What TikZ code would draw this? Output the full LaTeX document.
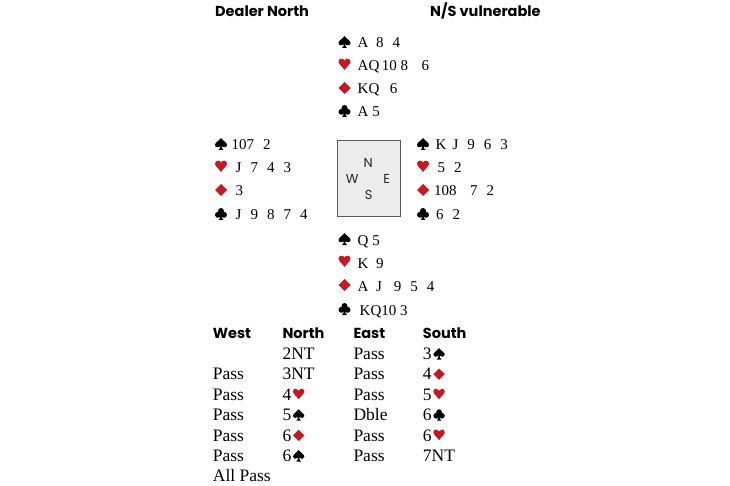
\documentclass[tikz,border=0pt]{standalone}
\usepackage{fontspec}
\setmainfont{Liberation Serif}
\newfontfamily\headfont{Poppins}
\usepackage{xcolor}
\definecolor{suitred}{RGB}{200,23,30}
\definecolor{boxgray}{RGB}{236,236,236}
\newcommand{\cg}{\hspace{0.6em}}
\tikzset{
  hand/.style={anchor=base west, inner sep=0pt, font=\fontsize{15}{17}\selectfont},
  bid/.style={anchor=base west, inner sep=0pt, font=\fontsize{17.5}{20}\selectfont},
  head/.style={anchor=base west, inner sep=0pt, font=\headfont\bfseries\fontsize{14.5}{16}\selectfont},
  compass/.style={inner sep=0pt, text=black!85, font=\headfont\fontsize{13}{15}\selectfont},
  % suit symbols, origin at bottom left, 12 wide
  spadesym/.pic={
    \fill (6,-12) .. controls (4,-9) and (0,-7.5) .. (0,-5)
      .. controls (0,-2.5) and (3.5,-2) .. (5.5,-4)
      .. controls (5.3,-2) and (4.5,-0.8) .. (3.5,0) -- (8.5,0)
      .. controls (7.5,-0.8) and (6.7,-2) .. (6.5,-4)
      .. controls (8.5,-2) and (12,-2.5) .. (12,-5)
      .. controls (12,-7.5) and (8,-9) .. (6,-12) -- cycle;
  },
  heartsym/.pic={
    \fill[suitred] (6,-1) .. controls (4,-4) and (0,-7) .. (0,-9.3)
      .. controls (0,-11.3) and (1.5,-12.3) .. (3,-12.3)
      .. controls (4.5,-12.3) and (5.5,-11.5) .. (6,-10.2)
      .. controls (6.5,-11.5) and (7.5,-12.3) .. (9,-12.3)
      .. controls (10.5,-12.3) and (12,-11.3) .. (12,-9.3)
      .. controls (12,-7) and (8,-4) .. (6,-1) -- cycle;
  },
  diamondsym/.pic={
    \fill[suitred] (6,0) -- (0,-6) -- (6,-12) -- (12,-6) -- cycle;
  },
  clubsym/.pic={
    \fill (6,-9) circle (3) (3,-5.2) circle (3) (9,-5.2) circle (3) (6,-6) circle (1.8);
    \fill (5.5,-5) .. controls (5.3,-2) and (4.5,-0.8) .. (3.5,0) -- (8.5,0)
      .. controls (7.5,-0.8) and (6.7,-2) .. (6.5,-5) -- cycle;
  }
}
\begin{document}
\begin{tikzpicture}[x=1pt,y=-1pt]
            \useasboundingbox (0,0) rectangle (730,486);
            % headings
            \node[head] (dealer) at (215,16.7) {Dealer North};
            \node[head] (vul) at (430,16.7) {N/S vulnerable};

            % North
            \pic at (338.5,48) {spadesym};
            \pic at (338.5,71) {heartsym};
            \pic at (338.5,94) {diamondsym};
            \pic at (338.5,117) {clubsym};
            \node[hand] (nS) at (357.5,48) {A\hspace{0.5em}8\cg 4};
            \node[hand] (nH) at (357.5,71) {AQ\,10 8\hspace{0.9em}6};
            \node[hand] (nD) at (357.5,94) {KQ\hspace{0.7em}6};
            \node[hand] (nC) at (357.5,117) {A 5};

            % West
            \pic at (215,150) {spadesym};
            \pic at (215,173) {heartsym};
            \pic at (215,196) {diamondsym};
            \pic at (215,220) {clubsym};
            \node[hand] (wS) at (231.5,150) {107\cg 2};
            \node[hand] (wH) at (235.5,173) {J\cg 7\cg 4\cg 3};
            \node[hand] (wD) at (235.5,196) {3};
            \node[hand] (wC) at (235.5,220) {J\cg 9\cg 8\cg 7\cg 4};

            % compass box
            \draw[draw=black!65, line width=1.1pt, fill=boxgray] (337.5,140.5) rectangle (400.5,216.5);
            \node[compass] (cN) at (368.3,163) {N};
            \node[compass] (cW) at (352.2,179.3) {W};
            \node[compass] (cE) at (386.7,178.8) {E};
            \node[compass] (cS) at (368.8,195) {S};

            % East
            \pic at (417,150) {spadesym};
            \pic at (417,173) {heartsym};
            \pic at (417,196) {diamondsym};
            \pic at (417,220) {clubsym};
            \node[hand] (eS) at (435.5,150) {K\hspace{0.4em}J\cg 9\cg 6\cg 3};
            \node[hand] (eH) at (437.5,173) {5\cg 2};
            \node[hand] (eD) at (434,196) {108\hspace{0.9em}7\cg 2};
            \node[hand] (eC) at (436,220) {6\cg 2};

            % South
            \pic at (338.5,245) {spadesym};
            \pic at (338.5,268) {heartsym};
            \pic at (338.5,291) {diamondsym};
            \pic at (338.5,315) {clubsym};
            \node[hand] (sS) at (357.5,245) {Q 5};
            \node[hand] (sH) at (357.5,268) {K\hspace{0.5em}9};
            \node[hand] (sD) at (357.5,291) {A\hspace{0.5em}J\hspace{0.8em}9\cg 5\cg 4};
            \node[hand] (sC) at (359.5,315) {KQ10 3};

            % bidding
            \node[head] (hW) at (212.7,338.5) {West};
            \node[head] (hN) at (282.3,338.5) {North};
            \node[head] (hE) at (353.3,338.5) {East};
            \node[head] (hS) at (422.7,338.5) {South};

            \node[bid] (b12) at (282.3,359.5) {2NT};
            \node[bid] (b13) at (353.3,359.5) {Pass};
            \node[bid] (b14) at (422.7,359.5) {3};
            \pic[scale=0.95] at ([xshift=1.5pt]b14.base east) {spadesym};

            \node[bid] (b21) at (212.7,379.9) {Pass};
            \node[bid] (b22) at (282.3,379.9) {3NT};
            \node[bid] (b23) at (353.3,379.9) {Pass};
            \node[bid] (b24) at (422.7,379.9) {4};
            \pic[scale=0.95] at ([xshift=1.5pt]b24.base east) {diamondsym};

            \node[bid] (b31) at (212.7,400.3) {Pass};
            \node[bid] (b32) at (282.3,400.3) {4};
            \pic[scale=0.95] at ([xshift=1.5pt]b32.base east) {heartsym};
            \node[bid] (b33) at (353.3,400.3) {Pass};
            \node[bid] (b34) at (422.7,400.3) {5};
            \pic[scale=0.95] at ([xshift=1.5pt]b34.base east) {heartsym};

            \node[bid] (b41) at (212.7,420.7) {Pass};
            \node[bid] (b42) at (282.3,420.7) {5};
            \pic[scale=0.95] at ([xshift=1.5pt]b42.base east) {spadesym};
            \node[bid] (b43) at (353.3,420.7) {Dble};
            \node[bid] (b44) at (422.7,420.7) {6};
            \pic[scale=0.95] at ([xshift=1.5pt]b44.base east) {clubsym};

            \node[bid] (b51) at (212.7,441.1) {Pass};
            \node[bid] (b52) at (282.3,441.1) {6};
            \pic[scale=0.95] at ([xshift=1.5pt]b52.base east) {diamondsym};
            \node[bid] (b53) at (353.3,441.1) {Pass};
            \node[bid] (b54) at (422.7,441.1) {6};
            \pic[scale=0.95] at ([xshift=1.5pt]b54.base east) {heartsym};

            \node[bid] (b61) at (212.7,461.5) {Pass};
            \node[bid] (b62) at (282.3,461.5) {6};
            \pic[scale=0.95] at ([xshift=1.5pt]b62.base east) {spadesym};
            \node[bid] (b63) at (353.3,461.5) {Pass};
            \node[bid] (b64) at (422.7,461.5) {7NT};

            \node[bid] (b71) at (212.7,481.9) {All Pass};
        \end{tikzpicture}
\end{document}
